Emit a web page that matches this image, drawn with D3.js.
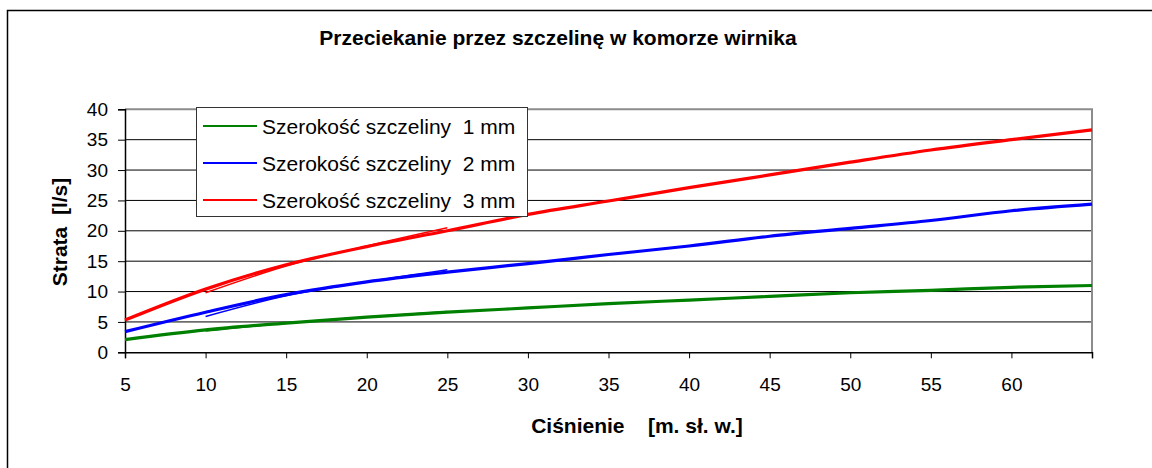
<!DOCTYPE html>
<html>
<head>
<meta charset="utf-8">
<script src="https://cdn.jsdelivr.net/npm/d3@7"></script>
<style>
  body { margin: 0; background: #fff; }
  text { font-family: Arial, "Liberation Sans", sans-serif; }
</style>
</head>
<body>
<div id="chart"></div>
<script>
// pressure values (x) and leakage values (y)
var pressure = [5, 10, 15, 20, 25, 30, 35, 40, 45, 50, 55, 60, 65];
var gap1 = [2.1, 3.7, 4.8, 5.8, 6.6, 7.3, 8.0, 8.6, 9.2, 9.8, 10.2, 10.7, 11.0];
var gap2 = [3.4, 6.6, 9.5, 11.6, 13.2, 14.6, 16.1, 17.5, 19.1, 20.4, 21.7, 23.3, 24.4];
var gap3 = [5.3, 10.4, 14.4, 17.4, 20.0, 22.7, 24.9, 27.1, 29.2, 31.3, 33.3, 35.0, 36.6];

// short second runs drawn over the first part of the curves
var pressureB = [10, 15, 20, 25];
var gap1b = [3.5, 4.8, 5.8, 6.7];
var gap2b = [5.9, 9.3, 11.6, 13.6];
var gap3b = [9.8, 14.2, 17.5, 20.5];

var seriesNames = ["Szerokość szczeliny  1 mm", "Szerokość szczeliny  2 mm", "Szerokość szczeliny  3 mm"];
var colors = ["#008000", "#0000ff", "#ff0000"];
var xTicks = [5, 10, 15, 20, 25, 30, 35, 40, 45, 50, 55, 60, 65];
var yTicks = [0, 5, 10, 15, 20, 25, 30, 35, 40];

var W = 1152, H = 468;
var plot = {left: 125, right: 1092, top: 109.3, bottom: 352.3};

var svg = d3.select("#chart").append("svg")
    .attr("width", W)
    .attr("height", H);

// outer chart frame (runs off the right and bottom edge)
svg.append("rect")
    .attr("x", 7.5).attr("y", 10.5)
    .attr("width", 1160).attr("height", 470)
    .attr("fill", "#fff")
    .attr("stroke", "#000")
    .attr("stroke-width", 1.5);

var x = d3.scaleLinear()
    .domain([5, 65])
    .range([plot.left, plot.right]);

var y = d3.scaleLinear()
    .domain([0, 40])
    .range([plot.bottom, plot.top]);

// gridlines
svg.append("g")
  .selectAll("line")
  .data(yTicks.filter(function(d) { return d > 0 && d < 40; }))
  .enter().append("line")
    .attr("x1", plot.left).attr("x2", plot.right)
    .attr("y1", function(d) { return y(d); })
    .attr("y2", function(d) { return y(d); })
    .attr("stroke", "#000")
    .attr("stroke-width", 1);

// plot border top/right
svg.append("path")
    .attr("d", "M" + plot.left + "," + plot.top + "H" + plot.right + "V" + plot.bottom)
    .attr("fill", "none")
    .attr("stroke", "#8c8c8c")
    .attr("stroke-width", 2);

var xAxis = d3.axisBottom(x)
    .tickValues(xTicks)
    .tickSizeOuter(0)
    .tickSize(6)
    .tickFormat(function(d) { return d == 65 ? "" : d; });

var yAxis = d3.axisLeft(y)
    .tickValues(yTicks)
    .tickSizeOuter(0)
    .tickSize(7)
    .tickPadding(10);

var gx = svg.append("g")
    .attr("transform", "translate(0," + plot.bottom + ")")
    .call(xAxis);
gx.selectAll("text")
    .attr("font-size", "19px")
    .attr("font-family", "Arial, 'Liberation Sans', sans-serif")
    .attr("fill", "#000")
    .attr("y", 25);

var gy = svg.append("g")
    .attr("transform", "translate(" + plot.left + ",0)")
    .call(yAxis);
gy.selectAll("text")
    .attr("font-size", "19px")
    .attr("font-family", "Arial, 'Liberation Sans', sans-serif")
    .attr("fill", "#000");

svg.selectAll(".domain").attr("stroke", "#000").attr("stroke-width", 1.5);
svg.selectAll(".tick line").attr("stroke", "#000");

// lines
var line = d3.line()
    .x(function(d) { return x(d[0]); })
    .y(function(d) { return y(d[1]); })
    .curve(d3.curveMonotoneX);

var mainSets = [gap1, gap2, gap3];
var extraSets = [gap1b, gap2b, gap3b];

extraSets.forEach(function(vals, i) {
  svg.append("path")
      .datum(pressureB.map(function(p, j) { return [p, vals[j]]; }))
      .attr("d", line)
      .attr("fill", "none")
      .attr("stroke", colors[i])
      .attr("stroke-width", 1.5);
});

mainSets.forEach(function(vals, i) {
  svg.append("path")
      .datum(pressure.map(function(p, j) { return [p, vals[j]]; }))
      .attr("d", line)
      .attr("fill", "none")
      .attr("stroke", colors[i])
      .attr("stroke-width", 3.2)
      .attr("stroke-linejoin", "round");
});

// legend
var legend = svg.append("g");
legend.append("rect")
    .attr("x", 196.5).attr("y", 107.5)
    .attr("width", 331).attr("height", 109)
    .attr("fill", "#fff")
    .attr("stroke", "#333")
    .attr("stroke-width", 1);

seriesNames.forEach(function(name, i) {
  var ly = 126 + i * 37;
  legend.append("line")
      .attr("x1", 203).attr("x2", 257)
      .attr("y1", ly).attr("y2", ly)
      .attr("stroke", colors[i])
      .attr("stroke-width", 2);
  legend.append("text")
      .attr("x", 262).attr("y", ly + 8)
      .attr("font-size", "21px")
      .style("white-space", "pre")
      .text(name);
});

// titles
svg.append("text")
    .attr("x", 558).attr("y", 45)
    .attr("text-anchor", "middle")
    .attr("font-size", "21px")
    .attr("font-weight", "bold")
    .text("Przeciekanie przez szczelinę w komorze wirnika");

svg.append("text")
    .attr("x", 637).attr("y", 433)
    .attr("text-anchor", "middle")
    .attr("font-size", "21px")
    .attr("font-weight", "bold")
    .style("white-space", "pre")
    .text("Ciśnienie    [m. sł. w.]");

svg.append("text")
    .attr("text-anchor", "middle")
    .attr("font-size", "21px")
    .attr("font-weight", "bold")
    .style("white-space", "pre")
    .attr("transform", "translate(67,232) rotate(-90)")
    .text("Strata  [l/s]");
</script>
</body>
</html>
